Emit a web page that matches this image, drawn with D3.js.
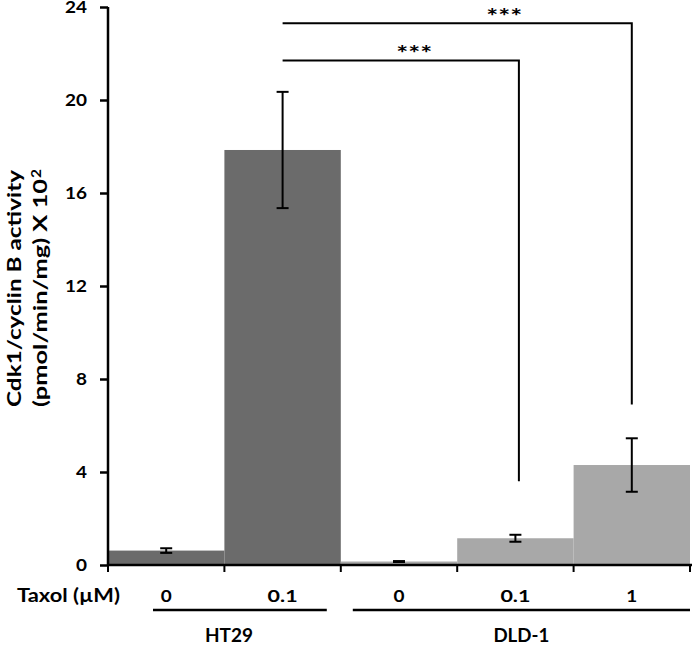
<!DOCTYPE html>
<html><head><meta charset="utf-8">
<script src="https://cdn.jsdelivr.net/npm/d3@7"></script>
<style>
body{margin:0;background:#fff;}
text{font-family:Lato,"Open Sans",sans-serif;font-weight:700;fill:#000;}
</style></head>
<body><svg id="c" width="693" height="646"></svg>
<script>
const categories = ["HT29 0","HT29 0.1","DLD-1 0","DLD-1 0.1","DLD-1 1"];
const doseLabels = ["0","0.1","0","0.1","1"];
const cellLines = ["HT29","HT29","DLD-1","DLD-1","DLD-1"];
const values = [0.62, 17.85, 0.15, 1.15, 4.3];
const errors = [0.1, 2.5, 0.02, 0.15, 1.15];
const yTicks = [0,4,8,12,16,20,24];
const groups = [{name:"HT29", from:0, to:1},{name:"DLD-1", from:2, to:4}];
const brackets = [
  {from:1, to:3, toPos:0.53, top:21.7, drop:3.6, label:"***", labelPos:0.557},
  {from:1, to:4, toPos:0.5, top:23.3, drop:6.9, label:"***", labelPos:0.635}
];
const colors = {"HT29":"#6b6b6b","DLD-1":"#a8a8a8"};

const svg = d3.select("#c");
const m = {left:108, right:3, top:7, bottom:81};
const W = 693, H = 646;
const x = d3.scaleBand().domain(categories).range([m.left, W-m.right]).padding(0);
const y = d3.scaleLinear().domain([0,24]).range([H-m.bottom, m.top]);

const charW = c => c==="." ? 8 : 11;
const strW = s => s.split("").reduce((a,c)=>a+charW(c),0);

// bars
svg.selectAll("rect.bar").data(categories).join("rect")
  .attr("x", d=>x(d)).attr("width", x.bandwidth())
  .attr("y", (d,i)=>y(values[i])).attr("height",(d,i)=>y(0)-y(values[i]))
  .attr("fill",(d,i)=>colors[cellLines[i]]);

// error bars
const eb = svg.append("g").attr("stroke","#000").attr("stroke-width",2);
categories.forEach((c,i)=>{
  const cx = x(c)+x.bandwidth()/2;
  const hi = y(values[i]+errors[i]), lo = y(values[i]-errors[i]);
  eb.append("line").attr("x1",cx).attr("x2",cx).attr("y1",hi).attr("y2",lo);
  eb.append("line").attr("x1",cx-6).attr("x2",cx+6).attr("y1",hi).attr("y2",hi);
  eb.append("line").attr("x1",cx-6).attr("x2",cx+6).attr("y1",lo).attr("y2",lo);
});

// y axis
const ya = svg.append("g").attr("transform",`translate(${m.left},0)`)
  .call(d3.axisLeft(y).tickValues(yTicks).tickSize(8).tickPadding(13).tickFormat(d3.format("d")));
ya.select(".domain").attr("stroke-width",2.5).attr("d",`M0,${y(24)}V${y(0)}`);
ya.selectAll(".tick line").attr("stroke-width",2.5);
ya.selectAll(".tick text").style("font-size","17px").style("font-family","Lato").style("font-weight","700")
  .attr("dy","0.34em")
  .attr("textLength",d=>strW(String(d))).attr("lengthAdjust","spacingAndGlyphs");

// x axis
const xa = svg.append("g").attr("transform",`translate(0,${y(0)})`);
xa.append("line").attr("x1",m.left).attr("x2",W-1).attr("y1",0).attr("y2",0)
  .attr("stroke","#000").attr("stroke-width",2.5);
const bounds = categories.map(c=>x(c)).concat([x(categories[categories.length-1])+x.bandwidth()]);
xa.selectAll("line.t").data(bounds).join("line").attr("class","t")
  .attr("x1",d=>d).attr("x2",d=>d).attr("y1",0).attr("y2",7)
  .attr("stroke","#000").attr("stroke-width",2);

// dose labels
svg.selectAll("text.dose").data(categories).join("text").attr("class","dose")
  .attr("x",d=>x(d)+x.bandwidth()/2).attr("y",y(0)+37)
  .attr("text-anchor","middle").style("font-size","17px")
  .attr("textLength",(d,i)=>strW(doseLabels[i])).attr("lengthAdjust","spacingAndGlyphs")
  .text((d,i)=>doseLabels[i]);
svg.append("text").attr("x",17).attr("y",y(0)+37).style("font-size","19px")
  .attr("textLength",103).attr("lengthAdjust","spacingAndGlyphs").text("Taxol (µM)");

// group lines and labels
const groupLen = {"HT29":48,"DLD-1":56};
groups.forEach(g=>{
  const x1 = x(categories[g.from]) + (g.from===0 ? 45 : 12);
  const x2 = x(categories[g.to]) + x.bandwidth() - (g.from===0 ? 14 : 0);
  svg.append("line").attr("x1",x1).attr("x2",x2).attr("y1",y(0)+45).attr("y2",y(0)+45)
    .attr("stroke","#000").attr("stroke-width",2.5);
  svg.append("text").attr("x",(x1+x2)/2 - (g.from===0 ? 11 : 0)).attr("y",y(0)+77).attr("text-anchor","middle")
    .style("font-size","19px").attr("textLength",groupLen[g.name]).attr("lengthAdjust","spacingAndGlyphs")
    .text(g.name);
});

// significance brackets
brackets.forEach(b=>{
  const x1 = x(categories[b.from])+x.bandwidth()/2;
  const x2 = x(categories[b.to])+x.bandwidth()*b.toPos;
  svg.append("path").attr("d",`M${x1},${y(b.top)}H${x2}V${y(b.drop)}`)
    .attr("fill","none").attr("stroke","#000").attr("stroke-width",2);
  svg.append("text").attr("x",x1+(x2-x1)*b.labelPos).attr("y",y(b.top)+1)
    .attr("text-anchor","middle").style("font-size","21px")
    .attr("textLength",36).attr("lengthAdjust","spacingAndGlyphs").text(b.label);
});

// y label (rotated)
const yl = svg.append("g").attr("transform",`rotate(-90)`);
yl.append("text").attr("x",-407).attr("y",21).style("font-size","19px")
  .attr("textLength",237).attr("lengthAdjust","spacingAndGlyphs").text("Cdk1/cyclin B activity");
yl.append("text").attr("x",-407).attr("y",47).style("font-size","19px")
  .attr("textLength",228).attr("lengthAdjust","spacingAndGlyphs").text("(pmol/min/mg) X 10");
yl.append("text").attr("x",-178).attr("y",41).style("font-size","13px")
  .attr("textLength",9).attr("lengthAdjust","spacingAndGlyphs").text("2");
</script></body></html>
